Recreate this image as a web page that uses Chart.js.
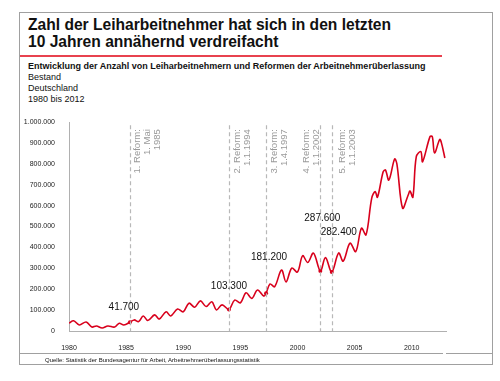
<!DOCTYPE html>
<html><head><meta charset="utf-8">
<script src="https://cdn.jsdelivr.net/npm/chart.js@4/dist/chart.umd.min.js"></script>
<style>
html,body{margin:0;padding:0;background:#fff;}
body{width:500px;height:381px;position:relative;overflow:hidden;font-family:"Liberation Sans",Arial,sans-serif;color:#111;}
#frame{position:absolute;left:19px;top:12px;width:472px;height:351px;border:1px solid #a0a0a0;}
#title{position:absolute;left:28px;top:16px;font-size:15.6px;font-weight:bold;line-height:17px;color:#111;white-space:nowrap;}
#redline{position:absolute;left:20px;top:55px;width:422px;height:1.5px;background:#e8424f;}
#sub{position:absolute;left:28px;top:61px;font-size:9px;line-height:11px;white-space:nowrap;color:#111;}
#sub b{font-weight:bold;}
#fline1{position:absolute;left:20px;top:353px;width:423px;height:1px;background:#a0a0a0;}
#fline2{position:absolute;left:446px;top:353px;width:46px;height:1px;background:#a0a0a0;}
#src{position:absolute;left:45px;top:356px;font-size:6px;line-height:8px;white-space:nowrap;color:#111;}
canvas{position:absolute;left:0;top:0;}
</style></head>
<body>
<div id="frame"></div>
<div id="title">Zahl der Leiharbeitnehmer hat sich in den letzten<br>10 Jahren annähernd verdreifacht</div>
<div id="redline"></div>
<div id="sub"><b>Entwicklung der Anzahl von Leiharbeitnehmern und Reformen der Arbeitnehmerüberlassung</b><br>Bestand<br>Deutschland<br>1980 bis 2012</div>
<canvas id="c" width="500" height="381"></canvas>
<div id="fline1"></div><div id="fline2"></div>
<div id="src">Quelle: Statistik der Bundesagentur für Arbeit, Arbeitnehmerüberlassungsstatistik</div>
<script>
// ---- data ----
const years = [1980.0,1980.4,1980.9,1981.5,1982.0,1982.4,1982.9,1983.4,1984.0,1984.4,1984.8,1985.33,1985.7,1986.1,1986.5,1986.9,1987.5,1987.9,1988.5,1988.9,1989.5,1990.0,1990.5,1991.0,1991.5,1992.0,1992.5,1992.9,1993.4,1994.0,1994.5,1995.0,1995.5,1996.0,1996.5,1997.05,1997.25,1997.6,1998.0,1998.6,1999.0,1999.5,2000.0,2000.45,2000.9,2001.4,2002.0,2002.45,2003.0,2003.6,2004.0,2004.6,2005.1,2005.6,2006.0,2006.5,2006.8,2007.0,2007.5,2007.7,2008.0,2008.5,2008.7,2009.2,2009.7,2009.85,2010.1,2010.4,2010.8,2010.95,2011.6,2011.8,2012.0,2012.45,2012.6,2012.9];
const workers = [38000,49000,29000,43000,19000,24000,14000,24000,19000,37000,29000,41700,53000,45000,72000,50000,77000,57000,92000,72000,105000,92000,133000,114000,144000,117000,140000,101000,125000,103300,148000,135000,183000,156000,196000,167000,181200,225000,212000,292000,235000,301000,282000,360000,328000,373000,287600,351000,282400,373000,334000,420000,380000,492000,460000,636000,667000,640000,762000,770000,722000,823000,800000,588000,652000,670000,640000,834000,858000,810000,930000,930000,852000,917000,900000,828000];
const reformDates = [1985.33,1994.0,1997.25,2002.0,2003.0];
const reformLabels = [["1. Reform:","1. Mai","1985"],["2. Reform:","1.1.1994"],["3. Reform:","1.4.1997"],["4. Reform:","1.1.2002"],["5. Reform:","1.1.2003"]];
const calloutDates = [1985.33,1994.0,1997.25,2002.0,2003.0];
const calloutValues = [41700,103300,181200,287600,282400];
const xTicks = [1980,1985,1990,1995,2000,2005,2010];
const yMax = 1000000, yStep = 100000;

// ---- layout (pixel offsets, not data) ----
const reformLabelDx = [7,8,8,-14,10];
const calloutOffsets = [[-6,-15],[0,-23],[3,-36],[2,-53],[7,-40]];

const fmt = v => String(Math.round(v)).replace(/\B(?=(\d{3})+(?!\d))/g,'.');

const overlay = {
  id:'overlay',
  afterDatasetsDraw(chart){
    const {ctx, scales:{x,y}, chartArea} = chart;
    ctx.save();
    reformDates.forEach((d,i)=>{
      const px = Math.round(x.getPixelForValue(d))+0.5;
      ctx.strokeStyle='#b8b8b8'; ctx.lineWidth=1.2; ctx.setLineDash([4,3]);
      ctx.beginPath(); ctx.moveTo(px, y.getPixelForValue(985000)); ctx.lineTo(px, chartArea.bottom); ctx.stroke();
      ctx.setLineDash([]);
      ctx.fillStyle='#9a9a9a'; ctx.font='9.5px "Liberation Sans", Arial, sans-serif';
      ctx.textAlign='right'; ctx.textBaseline='middle';
      reformLabels[i].forEach((t,j)=>{
        ctx.save();
        ctx.translate(px + reformLabelDx[i] + j*10, y.getPixelForValue(985000)+4);
        ctx.rotate(-Math.PI/2);
        ctx.fillText(t,0,0);
        ctx.restore();
      });
    });
    ctx.fillStyle='#111'; ctx.font='10px "Liberation Sans", Arial, sans-serif';
    ctx.textAlign='center'; ctx.textBaseline='middle';
    calloutDates.forEach((d,i)=>{
      const px = x.getPixelForValue(d), py = y.getPixelForValue(calloutValues[i]);
      ctx.fillText(fmt(calloutValues[i]), px+calloutOffsets[i][0], py+calloutOffsets[i][1]);
    });
    ctx.restore();
  }
};

new Chart(document.getElementById('c'), {
  type:'line',
  data:{datasets:[
    {data: years.map((yr,i)=>({x:yr,y:workers[i]})), borderColor:'#d8001c', borderWidth:1.6, pointRadius:0, tension:0.35, fill:false},
    {data: calloutDates.map((d,i)=>({x:d,y:calloutValues[i]})), showLine:false, pointRadius:2, pointBackgroundColor:'#d8001c', pointBorderWidth:0}
  ]},
  options:{
    responsive:false, animation:false,
    layout:{padding:{left:19,top:122,right:54,bottom:30}},
    plugins:{legend:{display:false},tooltip:{enabled:false}},
    scales:{
      x:{type:'linear',min:1980,max:2013,
        afterBuildTicks: s => { s.ticks = xTicks.map(v=>({value:v})); },
        afterFit: s => { s.height = 20; },
        grid:{display:false}, border:{display:true,color:'#b0b0b0',width:1},
        ticks:{padding:5,color:'#222',font:{family:'"Liberation Sans", Arial, sans-serif',size:7},callback:v=>String(v),maxRotation:0,autoSkip:false}},
      y:{min:0,max:yMax,
        afterFit: s => { s.width = 50; },
        grid:{display:false}, border:{display:true,color:'#b0b0b0',width:1},
        ticks:{stepSize:yStep,padding:6,color:'#222',font:{family:'"Liberation Sans", Arial, sans-serif',size:7},callback:v=>fmt(v)}}
    }
  },
  plugins:[overlay]
});
</script>
</body></html>
